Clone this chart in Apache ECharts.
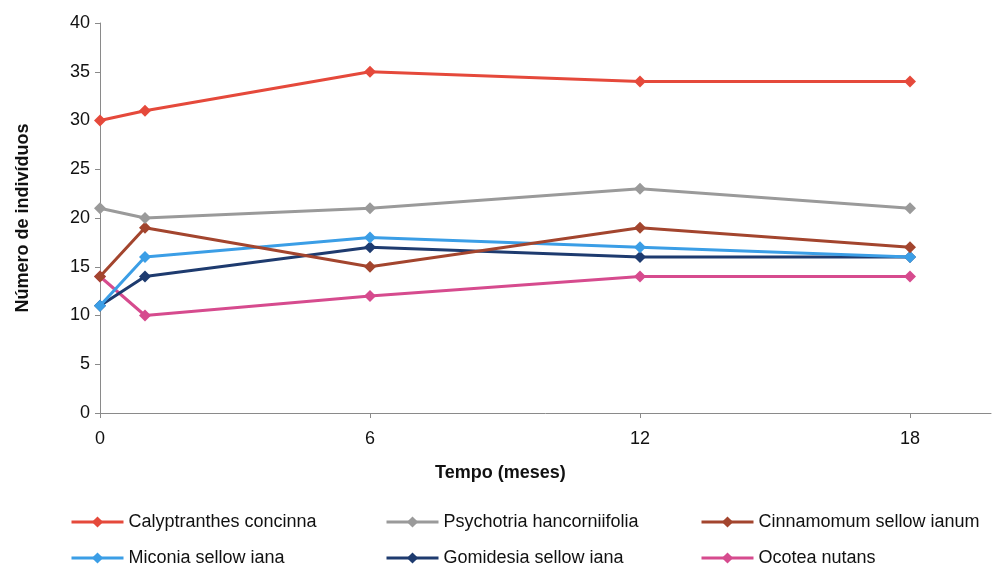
<!DOCTYPE html>
<html>
<head>
<meta charset="utf-8">
<script src="https://cdn.jsdelivr.net/npm/echarts@6/dist/echarts.min.js"></script>
<style>html,body{margin:0;padding:0;background:#fff}#c{width:993px;height:569px}</style>
</head>
<body>
<div id="c"></div>
<script>
const months = [0, 1, 6, 12, 18];
const xTicks = [0, 6, 12, 18];
const seriesNames = ["Calyptranthes concinna", "Psychotria hancorniifolia", "Cinnamomum sellow ianum", "Miconia sellow iana", "Gomidesia sellow iana", "Ocotea nutans"];
const calyptranthes = [30, 31, 35, 34, 34];
const psychotria = [21, 20, 21, 23, 21];
const cinnamomum = [14, 19, 15, 19, 17];
const miconia = [11, 16, 18, 17, 16];
const gomidesia = [11, 14, 17, 16, 16];
const ocotea = [14, 10, 12, 14, 14];
const colors = ["#e5493b", "#9a9a9a", "#a3452e", "#3b9ee6", "#1e3b6f", "#d64b8e"];
const values = [calyptranthes, psychotria, cinnamomum, miconia, gomidesia, ocotea];

const font = "'Liberation Sans', Arial, sans-serif";
const legendPos = [[70, 513], [385, 513], [700, 513], [70, 549], [385, 549], [700, 549]];

const chart = echarts.init(document.getElementById('c'), null, {renderer: 'canvas'});
chart.setOption({
  animation: false,
  backgroundColor: '#fff',
  textStyle: {fontFamily: font},
  title: {
    text: 'Tempo (meses)',
    left: 430, top: 459,
    textStyle: {fontFamily: font, fontSize: 18, fontWeight: 'bold', color: '#111'}
  },
  grid: {left: 100, right: 2, top: 23, bottom: 156, containLabel: false},
  legend: seriesNames.map((n, i) => ({
    data: [n], left: legendPos[i][0], top: legendPos[i][1], padding: 0,
    itemWidth: 52, itemHeight: 14, itemGap: 5,
    lineStyle: {width: 3},
    textStyle: {fontFamily: font, fontSize: 18, color: '#111'}
  })),
  xAxis: {
    type: 'value', min: 0, max: 19.8,
    axisLine: {show: true, lineStyle: {color: '#8a8a8a', width: 1}},
    axisTick: {show: true, length: 5, lineStyle: {color: '#8a8a8a'}, customValues: xTicks},
    axisLabel: {customValues: xTicks, fontSize: 18, color: '#111', margin: 17, fontFamily: font},
    splitLine: {show: false}
  },
  yAxis: {
    type: 'value', min: 0, max: 40, interval: 5,
    name: 'Número de indivíduos', nameLocation: 'middle', nameGap: 68,
    nameTextStyle: {fontFamily: font, fontSize: 18, fontWeight: 'bold', color: '#111'},
    axisLine: {show: true, lineStyle: {color: '#8a8a8a', width: 1}},
    axisTick: {show: true, length: 5, lineStyle: {color: '#8a8a8a'}},
    axisLabel: {fontSize: 18, color: '#111', margin: 10, fontFamily: font},
    splitLine: {show: false}
  },
  series: seriesNames.map((n, i) => ({
    name: n, type: 'line',
    data: months.map((m, j) => [m, values[i][j]]),
    symbol: 'diamond', symbolSize: 12,
    itemStyle: {color: colors[i]},
    lineStyle: {color: colors[i], width: 3},
    z: 10 - i
  }))
});
</script>
</body>
</html>
